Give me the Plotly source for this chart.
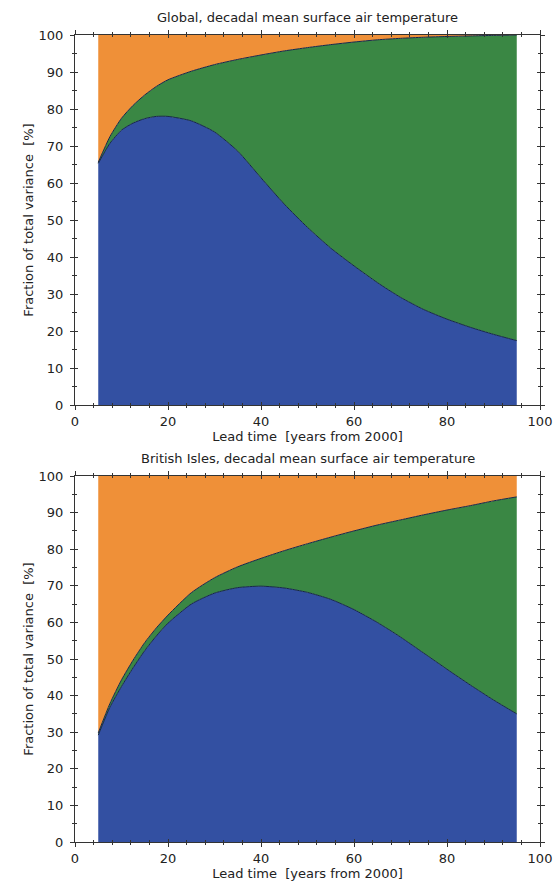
import plotly.graph_objects as go

# ---- data ----
lead_time = [5, 7.5, 10, 12.5, 15, 17.5, 20, 25, 30, 35, 40, 45, 50, 55, 60, 65, 70, 75, 80, 85, 90, 95]

global_blue = [65.3, 70.7, 74.3, 76.2, 77.4, 78.0, 78.0, 76.8, 73.8, 68.6, 61.4, 54.3, 48.0, 42.4,
               37.6, 33.1, 29.1, 25.8, 23.2, 21.0, 19.1, 17.4]
global_green = [65.6, 72.5, 77.5, 81.0, 83.8, 86.1, 87.9, 90.2, 92.0, 93.4, 94.6, 95.7, 96.6, 97.4,
                98.1, 98.7, 99.1, 99.4, 99.6, 99.75, 99.9, 100.0]

brit_blue = [29.2, 36.8, 42.5, 47.6, 52.3, 56.3, 59.8, 65.0, 68.0, 69.5, 69.9, 69.4, 68.2, 66.3,
             63.5, 60.0, 56.0, 51.6, 47.2, 42.9, 38.8, 35.0]
brit_green = [29.8, 37.8, 44.3, 49.7, 54.5, 58.5, 62.0, 68.1, 72.2, 75.2, 77.5, 79.6, 81.5, 83.3,
              85.0, 86.6, 88.0, 89.4, 90.7, 91.9, 93.2, 94.3]

total = [100.0] * len(lead_time)

titles = ["Global, decadal mean surface air temperature",
          "British Isles, decadal mean surface air temperature"]
x_title = "Lead time \u00a0[years from 2000]"
y_title = "Fraction of total variance \u00a0[%]"

ORANGE = "#EF9038"
GREEN = "#3A8744"
BLUE = "#3350A2"
EDGE = "#16264a"
AXC = "#333333"
FONT = "DejaVu Sans"

W, H = 554, 886
xdom = [75 / W, 540 / W]
ydoms = [[1 - 405 / H, 1 - 35 / H], [1 - 842 / H, 1 - 476 / H]]

fig = go.Figure()

panels = [(global_blue, global_green), (brit_blue, brit_green)]
for i, (blue, green) in enumerate(panels):
    xa = "x" if i == 0 else "x2"
    ya = "y" if i == 0 else "y2"
    fig.add_trace(go.Scatter(x=lead_time, y=blue, mode="lines", fill="tozeroy",
                             fillcolor=BLUE, line=dict(color=EDGE, width=1, shape="spline", smoothing=0.6),
                             xaxis=xa, yaxis=ya, showlegend=False, hoverinfo="skip"))
    fig.add_trace(go.Scatter(x=lead_time, y=green, mode="lines", fill="tonexty",
                             fillcolor=GREEN, line=dict(color=EDGE, width=1, shape="spline", smoothing=0.6),
                             xaxis=xa, yaxis=ya, showlegend=False, hoverinfo="skip"))
    fig.add_trace(go.Scatter(x=lead_time, y=total, mode="lines", fill="tonexty",
                             fillcolor=ORANGE, line=dict(color=ORANGE, width=0),
                             xaxis=xa, yaxis=ya, showlegend=False, hoverinfo="skip"))

# dummy traces for the inner-tick overlay axes
for xa, ya in [("x3", "y3"), ("x4", "y4")]:
    fig.add_trace(go.Scatter(x=[None], y=[None], xaxis=xa, yaxis=ya,
                             showlegend=False, hoverinfo="skip"))

tickfont = dict(family=FONT, size=13, color="#222")
titlefont = dict(family=FONT, size=13, color="#222")

def xax(anchor, title):
    return dict(domain=xdom, anchor=anchor, range=[0, 100], dtick=20, tick0=0, automargin=False,
                showgrid=False, zeroline=False, showline=True, linecolor=AXC, linewidth=1,
                mirror="ticks", ticks="outside", ticklen=4, tickcolor=AXC, tickwidth=1,
                minor=dict(dtick=4, ticks="outside", ticklen=2, tickcolor=AXC, tickwidth=1),
                tickfont=tickfont, title=dict(text=title, font=titlefont, standoff=2))

def yax(anchor, dom, title):
    return dict(domain=dom, anchor=anchor, range=[0, 100], dtick=10, tick0=0, automargin=False,
                showgrid=False, zeroline=False, showline=True, linecolor=AXC, linewidth=1,
                mirror="ticks", ticks="outside", ticklen=4, tickcolor=AXC, tickwidth=1,
                minor=dict(dtick=5, ticks="outside", ticklen=2, tickcolor=AXC, tickwidth=1),
                ticklabelstandoff=4,
                tickfont=tickfont, title=dict(text=title, font=titlefont, standoff=2))

def xin(anchor, over):
    return dict(domain=xdom, anchor=anchor, overlaying=over, range=[0, 100], dtick=20, tick0=0,
                showgrid=False, zeroline=False, showline=False, showticklabels=False, automargin=False,
                mirror="ticks", ticks="inside", ticklen=3, tickcolor=AXC, tickwidth=1,
                minor=dict(dtick=4, ticks="inside", ticklen=2, tickcolor=AXC, tickwidth=1))

def yin(anchor, over, dom):
    return dict(domain=dom, anchor=anchor, overlaying=over, range=[0, 100], dtick=10, tick0=0,
                showgrid=False, zeroline=False, showline=False, showticklabels=False, automargin=False,
                mirror="ticks", ticks="inside", ticklen=3, tickcolor=AXC, tickwidth=1,
                minor=dict(dtick=5, ticks="inside", ticklen=2, tickcolor=AXC, tickwidth=1))

fig.update_layout(
    width=W, height=H,
    margin=dict(l=0, r=0, t=0, b=0, autoexpand=False),
    paper_bgcolor="white", plot_bgcolor="white",
    xaxis=xax("y", x_title),
    yaxis=yax("x", ydoms[0], y_title),
    xaxis2=xax("y2", x_title),
    yaxis2=yax("x2", ydoms[1], y_title),
    xaxis3=xin("y3", "x"),
    yaxis3=yin("x3", "y", ydoms[0]),
    xaxis4=xin("y4", "x2"),
    yaxis4=yin("x4", "y2", ydoms[1]),
    annotations=[
        dict(text=titles[0], x=(xdom[0] + xdom[1]) / 2, y=1 - 17 / H, xref="paper", yref="paper",
             showarrow=False, xanchor="center", yanchor="middle", font=titlefont),
        dict(text=titles[1], x=(xdom[0] + xdom[1]) / 2, y=1 - 458 / H, xref="paper", yref="paper",
             showarrow=False, xanchor="center", yanchor="middle", font=titlefont),
    ],
)

fig.write_html("out.html")
